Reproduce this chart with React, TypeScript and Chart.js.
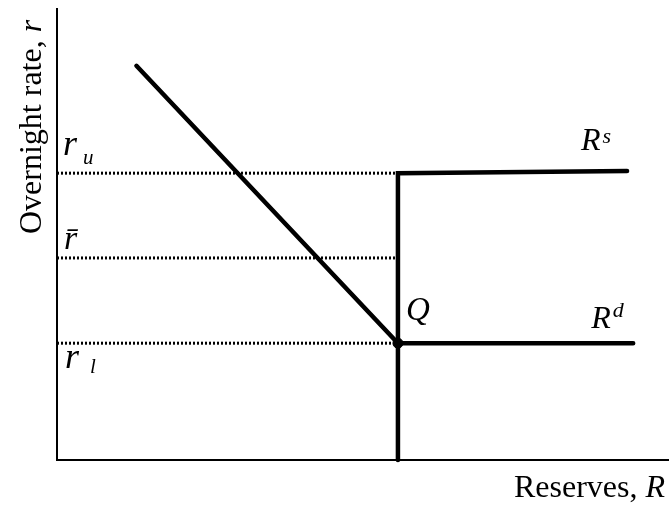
import React, { useEffect, useRef } from "react";
import { Chart, registerables } from "chart.js";

Chart.register(...registerables);

// Reserve demand curve Rd (downward sloping, then flat at the floor rate)
const demandX = [1.3, 5.58, 9.43];
const demandY = [8.74, 2.59, 2.59];
// Reserve supply curve Rs (vertical at supplied reserves, then flat at the ceiling)
const supplyX = [5.58, 5.58, 9.33];
const supplyY = [0, 6.36, 6.41];
// Corridor rates: ceiling r_u, target r̄, floor r_l
const corridorNames = ["r", "r\u0304", "r"];
const corridorSubs = ["u", "", "l"];
const corridorRates = [6.36, 4.48, 2.59];
const corridorEnd = 5.58;
// Equilibrium point Q
const eqX = [5.58];
const eqY = [2.59];
const eqLabel = "Q";
const curveNames = ["R", "R"];
const curveSups = ["s", "d"];
const xTitle = "Reserves, ";
const xTitleVar = "R";
const yTitle = "Overnight rate, ";
const yTitleVar = "r";

const pts = (xs: number[], ys: number[]) => xs.map((x, i) => ({ x, y: ys[i] }));

const SERIF = "'Liberation Serif', 'Times New Roman', serif";

const labelPlugin = {
  id: "labels",
  afterDraw(chart: any) {
    const { ctx, chartArea } = chart;
    const xs = chart.scales.x;
    const ys = chart.scales.y;
    ctx.save();
    ctx.fillStyle = "#000";
    ctx.textBaseline = "alphabetic";
    ctx.textAlign = "left";

    // corridor labels
    const offs = [-18, -9, 25];
    const xOff = [6, 7, 8];
    const mainSize = [36, 34, 36];
    const subDx = [6, 0, 11];
    const subDy = [9, 0, 5];
    corridorRates.forEach((r, i) => {
      const py = ys.getPixelForValue(r) + offs[i];
      const px = chartArea.left + xOff[i];
      ctx.font = `italic ${mainSize[i]}px ${SERIF}`;
      ctx.fillText(corridorNames[i], px, py);
      const w = ctx.measureText(corridorNames[i]).width;
      if (corridorSubs[i]) {
        ctx.font = `italic 21px ${SERIF}`;
        ctx.fillText(corridorSubs[i], px + w + subDx[i], py + subDy[i]);
      }
    });

    // Q
    ctx.font = `italic 33px ${SERIF}`;
    ctx.fillText(eqLabel, xs.getPixelForValue(eqX[0]) + 8, ys.getPixelForValue(eqY[0]) - 23);

    // Rs
    {
      const ex = xs.getPixelForValue(supplyX[2]);
      const ey = ys.getPixelForValue(supplyY[2]);
      ctx.font = `italic 32px ${SERIF}`;
      ctx.fillText(curveNames[0], ex - 46, ey - 21);
      const w = ctx.measureText(curveNames[0]).width;
      ctx.font = `italic 22px ${SERIF}`;
      ctx.fillText(curveSups[0], ex - 46 + w + 2, ey - 28);
    }
    // Rd
    {
      const ex = xs.getPixelForValue(demandX[2]);
      const ey = ys.getPixelForValue(demandY[2]);
      ctx.font = `italic 32px ${SERIF}`;
      ctx.fillText(curveNames[1], ex - 42, ey - 15);
      const w = ctx.measureText(curveNames[1]).width;
      ctx.font = `italic 22px ${SERIF}`;
      ctx.fillText(curveSups[1], ex - 42 + w + 2, ey - 26);
    }

    // x-axis title (right aligned)
    {
      ctx.font = `italic 32px ${SERIF}`;
      const wv = ctx.measureText(xTitleVar).width;
      const right = 665;
      ctx.fillText(xTitleVar, right - wv, 497);
      ctx.font = `32px ${SERIF}`;
      const wt = ctx.measureText(xTitle).width;
      ctx.fillText(xTitle, right - wv - wt, 497);
    }
    // y-axis title (rotated)
    {
      ctx.translate(41, 234);
      ctx.rotate(-Math.PI / 2);
      ctx.font = `32px ${SERIF}`;
      ctx.fillText(yTitle, 0, 0);
      const wt = ctx.measureText(yTitle).width;
      ctx.font = `italic 32px ${SERIF}`;
      ctx.fillText(yTitleVar, wt, 0);
    }
    ctx.restore();
  },
};

export default function App() {
  const ref = useRef<HTMLCanvasElement>(null);
  useEffect(() => {
    document.body.style.margin = "0";
    const canvas = ref.current!;
    const dotted = corridorRates.map((r) => ({
      type: "line" as const,
      data: [
        { x: 0, y: r },
        { x: corridorEnd, y: r },
      ],
      borderColor: "#000",
      borderWidth: 3,
      borderDash: [2, 2],
      pointRadius: 0,
      fill: false,
      clip: false as any,
    }));
    const chart = new Chart(canvas, {
      type: "scatter",
      data: {
        datasets: [
          ...dotted,
          {
            type: "line",
            data: pts(demandX, demandY),
            borderColor: "#000",
            borderWidth: 4.5,
            borderCapStyle: "round",
            borderJoinStyle: "miter",
            pointRadius: 0,
            fill: false,
            clip: false as any,
          },
          {
            type: "line",
            data: pts(supplyX, supplyY),
            borderColor: "#000",
            borderWidth: 4.5,
            borderCapStyle: "round",
            borderJoinStyle: "miter",
            pointRadius: 0,
            fill: false,
            clip: false as any,
          },
          {
            type: "scatter",
            data: pts(eqX, eqY),
            backgroundColor: "#000",
            borderColor: "#000",
            pointRadius: 5,
            clip: false as any,
          },
        ] as any,
      },
      options: {
        animation: false,
        responsive: false,
        devicePixelRatio: 1,
        layout: { autoPadding: false, padding: { left: 57, top: 9, right: 2, bottom: 49 } },
        plugins: {
          legend: { display: false },
          tooltip: { enabled: false },
          title: { display: false },
        },
        scales: {
          x: {
            type: "linear",
            min: 0,
            max: 10,
            ticks: { display: false },
            grid: { display: false, drawTicks: false },
            border: { display: true, color: "#000", width: 2 },
          },
          y: {
            type: "linear",
            min: 0,
            max: 10,
            ticks: { display: false },
            grid: { display: false, drawTicks: false },
            border: { display: true, color: "#000", width: 2 },
          },
        },
      },
      plugins: [labelPlugin],
    });
    return () => chart.destroy();
  }, []);
  return (
    <div style={{ width: 670, height: 509, background: "#fff" }}>
      <canvas ref={ref} width={670} height={509} />
    </div>
  );
}
